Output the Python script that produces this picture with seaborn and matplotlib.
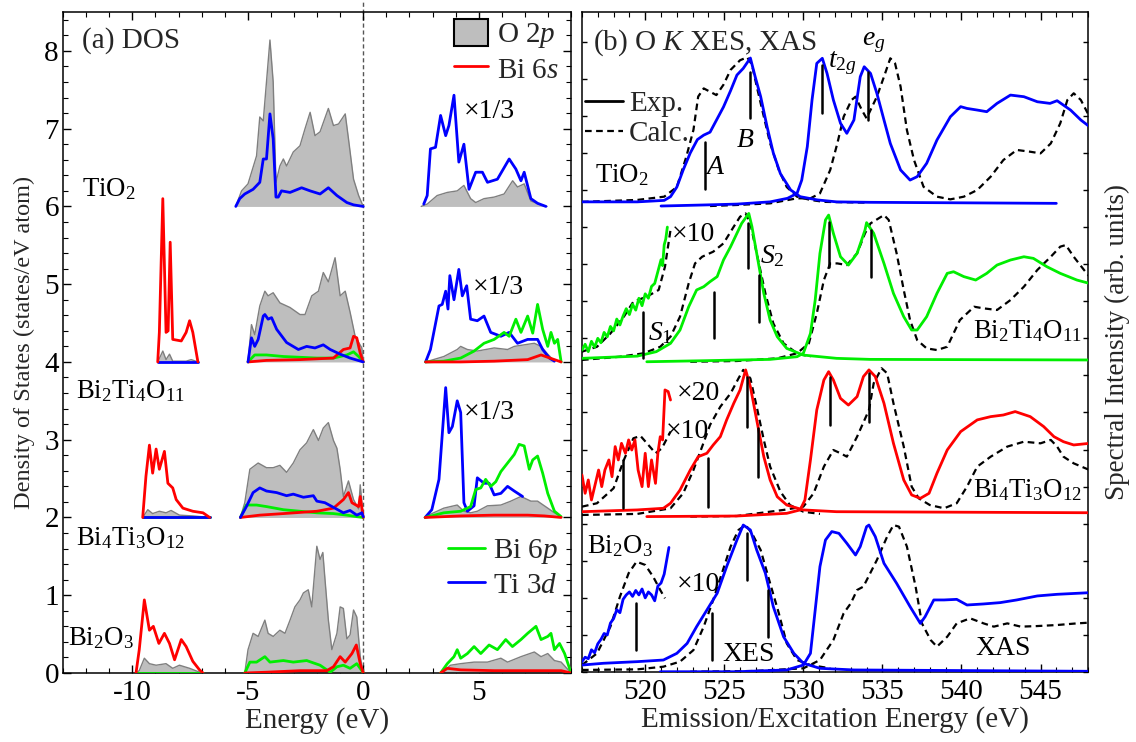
import numpy as np
import pandas as pd
import matplotlib
matplotlib.use("Agg")
import matplotlib.pyplot as plt
import seaborn as sns
from matplotlib.ticker import MultipleLocator, NullFormatter
from matplotlib.patches import Patch
from matplotlib.lines import Line2D

# ---------------------------------------------------------------- style
sns.set_theme(style="ticks")
plt.rcParams.update({
    "font.family": ["Liberation Serif", "DejaVu Serif"],
    "mathtext.fontset": "custom",
    "mathtext.rm": "Liberation Serif",
    "mathtext.it": "Liberation Serif:italic",
    "mathtext.bf": "Liberation Serif:bold",
    "axes.unicode_minus": False,
    "axes.edgecolor": "black",
    "axes.linewidth": 1.1,
    "font.size": 20,
})

RED, GREEN, BLUE = "#ff0000", "#00ee00", "#0000ff"
GRAY, EDGE = "#bebebe", "#7f7f7f"
FS = 20       # annotation text
FS_CMP = 19.3 # compound names
FS_BIG = 21   # panel titles, x labels, tick labels, legends

# ================================================================ (a) DOS
# energies in eV, DOS in states/eV atom (relative to each compound's baseline)
dos_offsets = {"TiO2": 6.0, "Bi2Ti4O11": 4.0, "Bi4Ti3O12": 2.0, "Bi2O3": 0.0}
cb_ti3d_scale = 1.0 / 3.0   # Ti 3d conduction band is drawn ×1/3

# --- TiO2
tio2_o2p_vb_e = [-5.52, -5.27, -4.99, -4.62, -4.48, -4.33, -4.19, -4.04, -3.90, -3.78, -3.61, -3.46, -3.32, -3.03,
                 -2.74, -2.52, -2.30, -2.09, -1.87, -1.51, -1.29, -1.07, -0.78, -0.64, -0.42, -0.20, 0.0]
tio2_o2p_vb_d = [0.0, 0.20, 0.29, 0.65, 1.15, 1.10, 1.60, 2.14, 1.60, 0.31, 0.52, 0.61, 0.52, 0.70,
                 0.78, 1.00, 1.21, 0.91, 0.96, 1.26, 1.04, 1.06, 1.19, 0.87, 0.35, 0.14, 0.0]
tio2_ti3d_vb_e = [-5.52, -5.35, -5.13, -4.77, -4.48, -4.33, -4.19, -4.04, -3.90, -3.78, -3.68, -3.54, -3.17,
                  -2.67, -2.30, -1.87, -1.51, -1.14, -0.71, -0.42, 0.0]
tio2_ti3d_vb_d = [0.0, 0.10, 0.16, 0.22, 0.31, 0.61, 0.61, 1.19, 0.87, 0.12, 0.12, 0.20, 0.18,
                  0.24, 0.20, 0.16, 0.24, 0.14, 0.05, 0.02, 0.0]
tio2_o2p_cb_e = [2.51, 2.77, 3.20, 3.64, 4.07, 4.36, 4.65, 4.87, 5.23, 5.67, 6.10, 6.47, 6.68, 6.97, 7.26, 7.70, 7.96]
tio2_o2p_cb_d = [0.0, 0.03, 0.14, 0.18, 0.20, 0.27, 0.10, 0.05, 0.10, 0.12, 0.16, 0.33, 0.25, 0.29, 0.07, 0.02, 0.0]
tio2_ti3d_cb_e = [2.62, 2.77, 2.91, 3.13, 3.35, 3.57, 3.71, 3.93, 4.14, 4.36, 4.58, 4.87, 5.16, 5.38, 5.81,
                  6.32, 6.61, 6.83, 6.97, 7.26, 7.55, 7.91]
tio2_ti3d_cb_d = [0.09, 0.42, 2.22, 2.28, 3.51, 2.73, 3.12, 4.29, 1.71, 2.40, 0.66, 1.32, 1.32, 0.93, 1.05,
                  1.83, 1.44, 0.99, 1.32, 0.30, 0.12, 0.0]

# --- Bi2Ti4O11
b2t4_bi6s_deep_e = [-8.90, -8.83, -8.68, -8.54, -8.45, -8.36, -8.25, -7.88, -7.67, -7.52, -7.38, -7.16]
b2t4_bi6s_deep_d = [0.0, 0.38, 2.10, 0.38, 0.40, 1.54, 0.29, 0.27, 0.38, 0.53, 0.38, 0.0]
b2t4_o2p_deep_e = [-8.90, -8.68, -8.54, -8.39, -8.25, -7.67, -7.45, -7.16]
b2t4_o2p_deep_d = [0.0, 0.14, 0.03, 0.10, 0.01, 0.01, 0.03, 0.0]
b2t4_o2p_vb_e = [-4.99, -4.84, -4.70, -4.48, -4.26, -4.12, -3.90, -3.61, -3.17, -2.74, -2.52, -2.23, -1.94,
                 -1.73, -1.51, -1.22, -1.00, -0.78, -0.57, -0.35, -0.06, 0.0]
b2t4_o2p_vb_d = [0.01, 0.48, 0.35, 0.72, 0.91, 0.85, 0.89, 0.76, 0.70, 0.61, 0.61, 0.85, 0.91,
                 1.15, 1.03, 1.34, 0.85, 0.91, 0.64, 0.33, 0.18, 0.0]
b2t4_ti3d_vb_e = [-4.99, -4.84, -4.70, -4.55, -4.33, -4.26, -4.12, -3.97, -3.75, -3.32, -2.81, -2.45, -2.09,
                  -1.73, -1.43, -1.00, -0.57, 0.0]
b2t4_ti3d_vb_d = [0.0, 0.31, 0.20, 0.29, 0.59, 0.61, 0.55, 0.57, 0.42, 0.25, 0.16, 0.20, 0.18,
                  0.22, 0.16, 0.10, 0.05, 0.0]
b2t4_bi6p_vb_e = [-4.99, -4.70, -4.19, -3.46, -2.74, -2.01, -1.29, -0.71, -0.42, -0.20, 0.0]
b2t4_bi6p_vb_d = [0.0, 0.09, 0.09, 0.07, 0.06, 0.05, 0.05, 0.09, 0.13, 0.07, 0.0]
b2t4_bi6s_vb_e = [-4.99, -4.19, -2.74, -1.29, -0.86, -0.57, -0.42, -0.28, -0.13, 0.0]
b2t4_bi6s_vb_d = [0.0, 0.02, 0.03, 0.05, 0.16, 0.18, 0.33, 0.31, 0.11, 0.0]
b2t4_o2p_cb_e = [2.70, 3.49, 4.07, 4.22, 4.51, 4.94, 5.67, 6.25, 6.54, 6.97, 7.41, 7.70, 7.99, 8.28]
b2t4_o2p_cb_d = [0.0, 0.07, 0.16, 0.20, 0.16, 0.14, 0.18, 0.16, 0.20, 0.22, 0.24, 0.20, 0.10, 0.01]
b2t4_ti3d_cb_e = [2.70, 2.91, 3.28, 3.42, 3.57, 3.67, 3.75, 3.93, 4.14, 4.29, 4.48, 4.65, 4.94, 5.23, 5.52,
                  5.96, 6.32, 6.68, 7.12, 7.55, 7.77, 8.06, 8.28]
b2t4_ti3d_cb_d = [0.0, 0.48, 2.16, 2.22, 2.73, 2.04, 3.33, 2.40, 3.57, 2.55, 2.94, 1.65, 1.59, 1.77, 1.14,
                  0.99, 1.14, 0.72, 0.87, 0.87, 0.48, 0.15, 0.03]
b2t4_bi6p_cb_e = [2.70, 3.49, 4.22, 4.80, 5.23, 5.67, 6.10, 6.32, 6.61, 6.83, 7.12, 7.34, 7.55, 7.77, 7.99,
                  8.13, 8.28, 8.42, 8.57]
b2t4_bi6p_cb_d = [0.0, 0.01, 0.05, 0.14, 0.24, 0.29, 0.38, 0.33, 0.55, 0.38, 0.59, 0.37, 0.74, 0.42, 0.20,
                  0.38, 0.24, 0.29, 0.0]
b2t4_bi6s_cb_e = [2.70, 4.22, 5.67, 7.12, 7.70, 7.99, 8.28, 8.57]
b2t4_bi6s_cb_d = [0.0, 0.0, 0.01, 0.03, 0.09, 0.06, 0.03, 0.0]

# --- Bi4Ti3O12
b4t3_bi6s_deep_e = [-9.55, -9.41, -9.26, -9.12, -8.97, -8.83, -8.61, -8.46, -8.25, -8.10, -7.81, -7.38, -6.94, -6.65]
b4t3_bi6s_deep_d = [0.0, 0.53, 0.93, 0.57, 0.88, 0.62, 0.85, 0.44, 0.38, 0.23, 0.12, 0.08, 0.06, 0.0]
b4t3_o2p_deep_e = [-9.55, -9.33, -9.12, -8.83, -8.54, -8.32, -7.96, -7.38, -6.65]
b4t3_o2p_deep_d = [0.0, 0.10, 0.05, 0.08, 0.06, 0.09, 0.03, 0.02, 0.0]
b4t3_o2p_vb_e = [-5.32, -5.13, -4.91, -4.55, -4.19, -3.90, -3.61, -3.32, -3.03, -2.74, -2.45, -2.16, -1.94, -1.73,
                 -1.51, -1.29, -1.14, -1.00, -0.86, -0.64, -0.42, -0.20, -0.13, 0.0]
b4t3_o2p_vb_d = [0.0, 0.19, 0.62, 0.70, 0.64, 0.64, 0.67, 0.58, 0.70, 0.87, 0.96, 1.13, 0.99, 1.15,
                 1.22, 0.99, 0.89, 0.62, 0.27, 0.47, 0.23, 0.11, 0.42, 0.0]
b4t3_ti3d_vb_e = [-5.32, -5.06, -4.77, -4.48, -4.19, -3.75, -3.32, -3.03, -2.59, -2.16, -2.01, -1.66, -1.29,
                  -0.86, -0.57, -0.28, -0.06, 0.0]
b4t3_ti3d_vb_d = [0.0, 0.14, 0.32, 0.38, 0.34, 0.32, 0.28, 0.30, 0.26, 0.28, 0.21, 0.19, 0.13,
                  0.06, 0.09, 0.03, 0.06, 0.01]
b4t3_bi6p_vb_e = [-5.32, -5.06, -4.62, -4.19, -3.46, -2.74, -2.01, -1.29, -0.71, -0.28, 0.0]
b4t3_bi6p_vb_d = [0.0, 0.16, 0.16, 0.14, 0.10, 0.08, 0.06, 0.05, 0.03, 0.01, 0.0]
b4t3_bi6s_vb_e = [-5.32, -4.48, -3.46, -2.01, -1.29, -0.86, -0.64, -0.49, -0.20, -0.13, 0.0]
b4t3_bi6s_vb_d = [0.0, 0.03, 0.05, 0.08, 0.12, 0.23, 0.32, 0.19, 0.14, 0.27, 0.0]
b4t3_o2p_cb_e = [2.68, 3.49, 4.07, 4.36, 4.65, 4.94, 5.38, 5.96, 6.39, 6.83, 7.26, 7.55, 7.99, 8.28, 8.57]
b4t3_o2p_cb_d = [0.01, 0.12, 0.16, 0.08, 0.06, 0.08, 0.15, 0.16, 0.21, 0.27, 0.21, 0.21, 0.12, 0.06, 0.01]
b4t3_ti3d_cb_e = [2.68, 2.97, 3.28, 3.57, 3.71, 3.86, 4.07, 4.22, 4.36, 4.51, 4.80, 4.94, 5.23, 5.45, 5.67,
                  5.96, 6.25, 6.54, 6.90]
b4t3_ti3d_cb_d = [0.0, 0.30, 1.47, 5.01, 3.27, 3.51, 4.50, 4.05, 0.57, 0.24, 0.45, 1.53, 1.32, 1.32, 0.87,
                  0.93, 1.20, 1.02, 0.81]
b4t3_bi6p_cb_e = [2.68, 3.49, 4.22, 4.65, 4.87, 5.09, 5.30, 5.52, 5.74, 5.96, 6.25, 6.54, 6.75, 6.97, 7.19,
                  7.34, 7.55, 7.77, 7.99, 8.28, 8.57]
b4t3_bi6p_cb_d = [0.0, 0.06, 0.08, 0.14, 0.36, 0.38, 0.49, 0.40, 0.46, 0.59, 0.70, 0.81, 0.94, 0.92, 0.62,
                  0.74, 0.79, 0.57, 0.31, 0.08, 0.01]
b4t3_bi6s_cb_e = [2.68, 4.22, 5.67, 6.54, 7.12, 7.84, 8.57]
b4t3_bi6s_cb_d = [0.0, 0.02, 0.03, 0.03, 0.03, 0.02, 0.0]

# --- Bi2O3
bio_bi6s_deep_e = [-9.84, -9.70, -9.48, -9.26, -9.09, -8.85, -8.61, -8.39, -8.17, -7.88, -7.67, -7.38, -7.09, -6.94]
bio_bi6s_deep_d = [0.0, 0.30, 0.94, 0.55, 0.60, 0.38, 0.51, 0.38, 0.17, 0.43, 0.34, 0.15, 0.04, 0.0]
bio_o2p_deep_e = [-9.84, -9.70, -9.48, -9.26, -8.97, -8.54, -8.25, -7.96, -7.52, -7.09, -6.94]
bio_o2p_deep_d = [0.0, 0.03, 0.19, 0.12, 0.10, 0.12, 0.06, 0.10, 0.06, 0.01, 0.0]
bio_o2p_vb_e = [-5.13, -4.99, -4.77, -4.55, -4.26, -4.12, -3.90, -3.61, -3.39, -3.17, -2.96, -2.74, -2.59, -2.38,
                -2.23, -2.01, -1.87, -1.75, -1.65, -1.51, -1.36, -1.14, -1.00, -0.86, -0.71, -0.57, -0.42, -0.28,
                -0.13, 0.0]
bio_o2p_vb_d = [0.0, 0.30, 0.51, 0.47, 0.68, 0.51, 0.47, 0.55, 0.51, 0.68, 0.85, 0.94, 1.03, 1.07,
                0.85, 1.63, 1.46, 1.55, 1.18, 0.68, 0.30, 0.51, 0.85, 0.83, 0.44, 0.49, 0.81, 0.72,
                0.21, 0.0]
bio_bi6p_vb_e = [-5.13, -4.91, -4.62, -4.26, -4.04, -3.46, -3.03, -2.45, -1.87, -1.43, -1.14, -0.86, -0.57,
                 -0.28, -0.06, 0.0]
bio_bi6p_vb_d = [0.0, 0.14, 0.14, 0.21, 0.14, 0.16, 0.14, 0.16, 0.10, 0.01, 0.08, 0.10, 0.06, 0.12, 0.03, 0.0]
bio_bi6s_vb_e = [-5.13, -4.19, -2.74, -1.58, -1.29, -1.00, -0.78, -0.49, -0.30, -0.13, 0.0]
bio_bi6s_vb_d = [0.0, 0.01, 0.03, 0.03, 0.08, 0.21, 0.14, 0.25, 0.36, 0.12, 0.0]
bio_o2p_cb_e = [3.35, 3.78, 4.22, 4.80, 5.38, 5.96, 6.25, 6.83, 7.41, 7.70, 7.99, 8.28, 8.57, 9.0]
bio_o2p_cb_d = [0.0, 0.10, 0.12, 0.14, 0.14, 0.19, 0.14, 0.21, 0.27, 0.21, 0.25, 0.16, 0.14, 0.0]
bio_bi6p_cb_e = [3.35, 3.64, 3.93, 4.07, 4.22, 4.51, 4.80, 5.09, 5.45, 5.81, 6.17, 6.46, 6.83, 7.12, 7.48,
                 7.70, 7.99, 8.13, 8.28, 8.50, 8.72, 9.0]
bio_bi6p_cb_d = [0.0, 0.12, 0.21, 0.30, 0.19, 0.25, 0.34, 0.25, 0.36, 0.30, 0.43, 0.34, 0.43, 0.51, 0.60,
                 0.43, 0.47, 0.51, 0.30, 0.38, 0.25, 0.0]
bio_bi6s_cb_e = [3.35, 3.64, 4.22, 5.67, 7.12, 8.57, 9.0]
bio_bi6s_cb_d = [0.0, 0.06, 0.04, 0.03, 0.03, 0.03, 0.0]

# ================================================================ (b) O K XES / XAS
# photon energy in eV, intensity normalised to the main peak (relative to each baseline)
spec_offsets = {"TiO2": 3.17, "Bi2Ti4O11": 2.11, "Bi4Ti3O12": 1.07, "Bi2O3": 0.0}

# --- TiO2
tio2_xes_exp_e = [516.0, 519.5, 521.2, 521.6, 522.0, 522.4, 522.85, 523.3, 523.7, 524.1, 524.5, 524.95, 525.4,
                  525.8, 526.2, 526.65, 526.95, 527.3, 527.7, 528.1, 528.55, 529.2, 529.8, 530.9, 532.1, 534.2, 546.0]
tio2_xes_exp_i = [0.0, 0.0, 0.01, 0.035, 0.10, 0.215, 0.33, 0.42, 0.45, 0.47, 0.55, 0.64, 0.75,
                  0.855, 0.90, 0.97, 0.845, 0.71, 0.51, 0.33, 0.19, 0.08, 0.035, 0.013, 0.0, -0.003, -0.01]
tio2_xes_calc_e = [516.0, 519.5, 521.2, 522.0, 522.6, 523.05, 523.35, 523.7, 524.5, 524.95, 525.4, 526.0, 526.45,
                   526.75, 527.05, 527.4, 527.9, 528.45, 528.95, 529.6, 530.45, 531.3, 534.0]
tio2_xes_calc_i = [0.0, 0.013, 0.035, 0.10, 0.305, 0.485, 0.71, 0.765, 0.72, 0.79, 0.89, 0.955, 0.975,
                   0.925, 0.78, 0.62, 0.395, 0.215, 0.10, 0.035, 0.013, 0.0, -0.005]
tio2_xas_exp_e = [521.0, 523.7, 525.8, 527.9, 529.0, 529.6, 529.9, 530.25, 530.55, 530.85, 531.2, 531.5, 531.9,
                  532.35, 532.75, 533.2, 533.6, 533.85, 534.25, 534.65, 535.1, 535.5, 536.15, 536.75, 537.2, 537.8,
                  538.45, 539.3, 539.95, 540.35, 541.0, 541.6, 542.25, 543.1, 543.95, 544.8, 545.6, 546.05, 546.9,
                  547.55, 548.1]
tio2_xas_exp_i = [-0.028, -0.021, -0.015, 0.0, 0.024, 0.057, 0.147, 0.372, 0.687, 0.934, 0.968, 0.866, 0.687,
                  0.53, 0.462, 0.552, 0.844, 0.911, 0.866, 0.732, 0.552, 0.394, 0.215, 0.147, 0.17, 0.26,
                  0.417, 0.574, 0.642, 0.63, 0.619, 0.608, 0.664, 0.72, 0.709, 0.675, 0.664, 0.682, 0.619,
                  0.552, 0.507]
tio2_xas_calc_e = [524.1, 525.8, 527.9, 529.6, 530.45, 531.05, 531.7, 532.15, 532.55, 533.05, 533.3, 533.7, 534.0,
                   534.65, 535.1, 535.5, 535.8, 536.15, 536.55, 537.0, 537.6, 538.45, 539.3, 540.15, 541.0, 541.85,
                   542.65, 543.5, 544.35, 545.0, 545.65, 546.25, 546.7, 547.1, 547.55, 548.1]
tio2_xas_calc_i = [-0.028, -0.021, -0.01, 0.024, 0.024, 0.057, 0.215, 0.394, 0.574, 0.687, 0.709, 0.619, 0.563,
                   0.709, 0.844, 0.968, 0.934, 0.777, 0.484, 0.282, 0.102, 0.035, 0.017, 0.035, 0.08, 0.17,
                   0.282, 0.35, 0.338, 0.327, 0.394, 0.53, 0.687, 0.732, 0.687, 0.574]
tio2_marks_e = [523.75, 526.6, 531.18, 534.07]
tio2_marks_lo = [0.09, 0.563, 0.597, 0.552]
tio2_marks_hi = [0.406, 0.878, 0.923, 0.878]

# --- Bi2Ti4O11
b2t4_xes_exp_e = [516.0, 519.5, 520.7, 521.6, 522.2, 522.75, 523.25, 523.7, 524.1, 524.55, 524.95, 525.4, 525.8,
                  526.1, 526.55, 526.75, 527.05, 527.5, 527.9, 528.35, 528.95, 530.0, 532.1, 534.2, 548.1]
b2t4_xes_exp_i = [0.005, 0.02, 0.05, 0.106, 0.196, 0.353, 0.466, 0.488, 0.522, 0.556, 0.668, 0.758, 0.848,
                  0.915, 0.982, 0.893, 0.713, 0.443, 0.263, 0.151, 0.072, 0.027, 0.005, -0.002, -0.006]
b2t4_xes_x10_e = [516.0, 516.2, 516.4, 516.6, 516.8, 517.0, 517.2, 517.4, 517.6, 517.8, 518.0, 518.2, 518.4,
                  518.6, 518.8, 519.0, 519.2, 519.4, 519.6, 519.8, 520.0, 520.2, 520.4, 520.6, 520.8, 521.0,
                  521.1, 521.2, 521.3, 521.4]
b2t4_xes_x10_i = [0.06, 0.10, 0.05, 0.12, 0.08, 0.14, 0.11, 0.18, 0.15, 0.22, 0.19, 0.27, 0.23,
                  0.29, 0.34, 0.30, 0.37, 0.33, 0.41, 0.36, 0.44, 0.41, 0.49, 0.51, 0.59, 0.67,
                  0.63, 0.77, 0.81, 0.89]
b2t4_xes_calc_e = [516.0, 518.4, 519.9, 520.95, 521.6, 522.2, 522.75, 523.15, 523.6, 524.3, 524.95, 525.6, 526.0,
                   526.35, 526.65, 527.05, 527.6, 528.1, 528.75, 529.6, 530.45]
b2t4_xes_calc_i = [-0.006, 0.016, 0.039, 0.083, 0.151, 0.286, 0.511, 0.645, 0.69, 0.724, 0.78, 0.893, 0.96,
                   0.982, 0.915, 0.713, 0.443, 0.241, 0.106, 0.039, 0.016]
b2t4_xes_calc_x10_e = [516.0, 516.95, 517.8, 518.65, 519.25, 520.1, 520.85, 521.25, 521.6]
b2t4_xes_calc_x10_i = [0.05, 0.083, 0.173, 0.286, 0.387, 0.421, 0.466, 0.623, 0.871]
b2t4_xas_exp_e = [520.1, 523.7, 527.9, 529.6, 530.0, 530.45, 530.75, 531.05, 531.4, 531.6, 531.9, 532.35, 532.85,
                  533.4, 533.9, 534.0, 534.45, 535.1, 535.7, 536.35, 536.85, 537.2, 537.8, 538.45, 539.1, 539.5,
                  540.15, 540.9, 541.6, 542.25, 543.1, 543.95, 544.55, 545.4, 546.25, 547.3, 548.1]
b2t4_xas_exp_i = [-0.018, -0.011, -0.002, 0.016, 0.039, 0.173, 0.398, 0.713, 0.938, 0.971, 0.848, 0.69, 0.634,
                  0.713, 0.87, 0.92, 0.848, 0.645, 0.443, 0.286, 0.196, 0.196, 0.286, 0.443, 0.578, 0.589,
                  0.556, 0.533, 0.578, 0.634, 0.668, 0.69, 0.679, 0.623, 0.578, 0.533, 0.51]
b2t4_xas_calc_e = [522.85, 525.8, 528.35, 529.6, 530.35, 530.85, 531.3, 531.7, 532.15, 532.75, 533.4, 533.9,
                   534.25, 535.1, 535.4, 535.9, 536.35, 536.75, 537.2, 537.8, 538.45, 539.1, 539.9, 540.8, 541.4,
                   542.25, 543.1, 543.95, 544.8, 545.65, 546.25, 546.6, 547.1, 547.75, 548.1]
b2t4_xas_calc_i = [-0.018, -0.013, 0.005, 0.039, 0.106, 0.308, 0.533, 0.645, 0.645, 0.634, 0.713, 0.848,
                   0.915, 0.971, 0.938, 0.713, 0.466, 0.263, 0.128, 0.072, 0.061, 0.083, 0.263, 0.353, 0.342,
                   0.331, 0.398, 0.488, 0.601, 0.69, 0.758, 0.769, 0.69, 0.601, 0.556]
b2t4_marks_e = [519.85, 524.36, 526.49, 527.21, 531.6, 534.28]
b2t4_marks_lo = [0.005, 0.14, 0.612, 0.252, 0.623, 0.556]
b2t4_marks_hi = [0.32, 0.454, 0.915, 0.567, 0.926, 0.87]

# --- Bi4Ti3O12
b4t3_xes_exp_e = [516.0, 519.5, 521.15, 521.6, 522.2, 522.85, 523.35, 523.9, 524.3, 524.75, 525.15, 525.6, 526.0,
                  526.35, 526.65, 527.05, 527.5, 527.9, 528.35, 528.95, 530.0, 532.1, 548.1]
b4t3_xes_exp_i = [0.011, 0.023, 0.034, 0.068, 0.157, 0.292, 0.382, 0.405, 0.461, 0.517, 0.63, 0.742, 0.832,
                  0.967, 0.854, 0.63, 0.382, 0.225, 0.112, 0.056, 0.023, 0.011, 0.004]
b4t3_xes_x20_e = [516.0, 516.2, 516.4, 516.6, 516.85, 517.05, 517.25, 517.45, 517.7, 517.9, 518.1, 518.3, 518.5,
                  518.75, 518.95, 519.15, 519.35, 519.55, 519.8, 520.0, 520.2, 520.4, 520.65, 520.8, 520.95,
                  521.1, 521.25, 521.45, 521.6]
b4t3_xes_x20_i = [0.259, 0.135, 0.225, 0.09, 0.202, 0.292, 0.18, 0.292, 0.36, 0.247, 0.45, 0.36, 0.472,
                  0.405, 0.495, 0.427, 0.495, 0.292, 0.18, 0.405, 0.18, 0.36, 0.202, 0.405, 0.517,
                  0.495, 0.832, 0.821, 0.764]
b4t3_xes_calc_e = [516.0, 519.5, 521.6, 522.4, 523.05, 523.6, 524.1, 524.75, 525.4, 525.9, 526.2, 526.65, 527.05,
                   527.5, 527.9, 528.55, 529.15, 530.0, 531.05]
b4t3_xes_calc_i = [-0.011, -0.004, 0.034, 0.135, 0.292, 0.45, 0.596, 0.719, 0.809, 0.91, 0.967, 0.91, 0.719,
                   0.495, 0.315, 0.146, 0.056, 0.011, -0.004]
b4t3_xes_calc_x10_e = [516.0, 516.95, 518.0, 518.65, 519.25, 519.7, 520.2, 520.65, 521.05, 521.6]
b4t3_xes_calc_x10_i = [0.045, 0.068, 0.169, 0.36, 0.506, 0.522, 0.461, 0.405, 0.438, 0.551]
b4t3_xas_exp_e = [520.1, 525.8, 528.95, 529.8, 530.1, 530.45, 530.85, 531.3, 531.6, 531.9, 532.35, 532.85, 533.4,
                  533.8, 534.15, 534.55, 535.1, 535.7, 536.35, 536.85, 537.4, 537.95, 538.45, 539.1, 539.95,
                  541.0, 541.85, 542.65, 543.4, 544.35, 545.2, 545.85, 546.45, 547.1, 548.1]
b4t3_xas_exp_i = [-0.022, -0.018, 0.0, 0.023, 0.09, 0.36, 0.697, 0.899, 0.955, 0.899, 0.775, 0.73, 0.787,
                  0.922, 0.967, 0.922, 0.742, 0.472, 0.225, 0.124, 0.101, 0.135, 0.27, 0.427, 0.551,
                  0.63, 0.652, 0.663, 0.686, 0.652, 0.585, 0.517, 0.483, 0.461, 0.472]
b4t3_xas_calc_e = [522.85, 525.8, 528.75, 530.0, 530.65, 531.3, 531.9, 532.35, 532.75, 533.4, 534.15, 534.45,
                   534.95, 535.3, 535.7, 536.35, 536.85, 537.3, 538.0, 538.9, 539.7, 540.35, 541.0, 541.85,
                   542.9, 543.95, 545.0, 545.65, 546.05, 546.45, 547.1, 548.1]
b4t3_xas_calc_i = [-0.022, -0.018, 0.023, 0.045, 0.135, 0.315, 0.427, 0.405, 0.382, 0.517, 0.697, 0.877,
                   0.978, 0.944, 0.742, 0.45, 0.18, 0.101, 0.056, 0.034, 0.068, 0.18, 0.315, 0.382,
                   0.45, 0.483, 0.472, 0.495, 0.45, 0.382, 0.337, 0.292]
b4t3_marks_e = [518.58, 523.96, 526.43, 527.13, 531.66, 534.17]
b4t3_marks_lo = [0.034, 0.045, 0.584, 0.247, 0.596, 0.618]
b4t3_marks_hi = [0.36, 0.371, 0.922, 0.573, 0.922, 0.944]

# --- Bi2O3
bio_xes_exp_e = [516.0, 517.35, 519.5, 521.15, 522.0, 522.65, 523.25, 523.9, 524.55, 525.15, 525.8, 526.2, 526.65,
                 527.05, 527.6, 528.1, 528.75, 529.4, 530.0, 531.05, 533.2, 548.1]
bio_xes_exp_i = [0.047, 0.059, 0.07, 0.081, 0.126, 0.193, 0.306, 0.418, 0.531, 0.711, 0.89, 0.991, 0.958,
                 0.823, 0.666, 0.441, 0.238, 0.126, 0.059, 0.025, 0.014, 0.005]
bio_xes_x10_e = [516.0, 516.2, 516.4, 516.6, 516.8, 517.0, 517.2, 517.4, 517.6, 517.8, 518.0, 518.2, 518.4, 518.6,
                 518.8, 519.0, 519.2, 519.4, 519.6, 519.8, 520.0, 520.2, 520.4, 520.6, 520.8, 521.0, 521.2,
                 521.35, 521.5]
bio_xes_x10_i = [0.07, 0.10, 0.09, 0.15, 0.13, 0.19, 0.22, 0.26, 0.25, 0.33, 0.36, 0.42, 0.40, 0.49,
                 0.52, 0.54, 0.51, 0.55, 0.52, 0.56, 0.50, 0.54, 0.52, 0.48, 0.58, 0.60, 0.66,
                 0.75, 0.84]
bio_xes_calc_e = [516.0, 519.5, 521.15, 522.2, 523.05, 523.7, 524.3, 524.85, 525.4, 525.9, 526.35, 526.75, 527.3,
                  527.9, 528.45, 528.95, 529.6, 530.45, 531.7]
bio_xes_calc_i = [0.014, 0.018, 0.036, 0.07, 0.148, 0.306, 0.486, 0.666, 0.846, 0.958, 0.991, 0.935, 0.823,
                  0.598, 0.396, 0.193, 0.081, 0.047, 0.025]
bio_xes_calc_x10_e = [516.0, 516.95, 517.8, 518.4, 518.95, 519.45, 520.0, 520.5, 520.95, 521.25]
bio_xes_calc_x10_i = [0.047, 0.126, 0.306, 0.508, 0.666, 0.744, 0.722, 0.643, 0.553, 0.497]
bio_xas_exp_e = [520.95, 525.8, 528.95, 530.0, 530.45, 530.75, 531.05, 531.4, 531.8, 532.25, 532.75, 533.3, 533.6,
                 534.0, 534.15, 534.55, 535.1, 535.9, 536.75, 537.4, 537.7, 538.25, 538.9, 539.7, 540.35, 541.4,
                 542.45, 543.5, 544.8, 546.05, 548.1]
bio_xas_exp_i = [0.002, 0.002, 0.014, 0.047, 0.126, 0.418, 0.711, 0.89, 0.947, 0.935, 0.868, 0.789, 0.846,
                 0.98, 0.991, 0.913, 0.733, 0.598, 0.441, 0.328, 0.373, 0.486, 0.486, 0.49, 0.452, 0.459,
                 0.468, 0.486, 0.513, 0.524, 0.535]
bio_xas_calc_e = [522.85, 526.85, 530.0, 531.05, 531.9, 532.55, 533.0, 533.4, 533.8, 534.65, 535.3, 535.7, 536.05,
                  536.55, 537.1, 537.5, 538.05, 538.45, 539.1, 539.7, 540.55, 541.4, 542.05, 542.9, 543.75,
                  544.8, 546.05, 547.3, 548.1]
bio_xas_calc_i = [0.002, 0.007, 0.025, 0.081, 0.216, 0.396, 0.463, 0.553, 0.576, 0.755, 0.913, 0.991, 0.98,
                  0.846, 0.576, 0.328, 0.216, 0.171, 0.238, 0.328, 0.362, 0.328, 0.306, 0.328, 0.306,
                  0.31, 0.317, 0.328, 0.333]
bio_marks_e = [519.41, 524.22, 526.43, 527.74]
bio_marks_lo = [0.148, 0.081, 0.62, 0.238]
bio_marks_hi = [0.463, 0.396, 0.935, 0.553]


# ---------------------------------------------------------------- helpers
DASH = (0, (3, 2))


def line(ax, x, y, offset=0.0, scale=1.0, color="k", lw=2.0, ls="-", z=3):
    df = pd.DataFrame({"x": np.asarray(x, float), "y": np.asarray(y, float) * scale + offset})
    sns.lineplot(data=df, x="x", y="y", ax=ax, color=color, linewidth=lw, linestyle=ls,
                 sort=False, estimator=None, zorder=z, legend=False)


def filled(ax, x, y, offset):
    x = np.asarray(x, float)
    y = np.asarray(y, float) + offset
    ax.fill_between(x, offset, y, color=GRAY, lw=0, zorder=1)
    line(ax, x, y, color=EDGE, lw=1.0, z=2)


def marks(ax, xs, lo, hi, offset):
    for x, a, b in zip(xs, lo, hi):
        line(ax, [x, x], [a, b], offset=offset, color="black", lw=1.8, z=5)


# ---------------------------------------------------------------- figure
fig = plt.figure(figsize=(11.36, 7.42), dpi=100)
ax1 = fig.add_axes([0.0555, 0.093, 0.4472, 0.8908])
ax2 = fig.add_axes([0.5123, 0.0943, 0.4454, 0.8895])

# ---- panel (a)
# TiO2
o = dos_offsets["TiO2"]
filled(ax1, tio2_o2p_vb_e, tio2_o2p_vb_d, o)
line(ax1, tio2_ti3d_vb_e, tio2_ti3d_vb_d, o, color=BLUE)
filled(ax1, tio2_o2p_cb_e, tio2_o2p_cb_d, o)
line(ax1, tio2_ti3d_cb_e, tio2_ti3d_cb_d, o, scale=cb_ti3d_scale, color=BLUE)

# Bi2Ti4O11
o = dos_offsets["Bi2Ti4O11"]
filled(ax1, b2t4_o2p_deep_e, b2t4_o2p_deep_d, o)
line(ax1, [b2t4_bi6s_deep_e[0], b2t4_bi6s_deep_e[-1]], [0, 0], o, color=BLUE)
line(ax1, b2t4_bi6s_deep_e, b2t4_bi6s_deep_d, o, color=RED)
filled(ax1, b2t4_o2p_vb_e, b2t4_o2p_vb_d, o)
line(ax1, b2t4_bi6p_vb_e, b2t4_bi6p_vb_d, o, color=GREEN)
line(ax1, b2t4_bi6s_vb_e, b2t4_bi6s_vb_d, o, color=RED)
line(ax1, b2t4_ti3d_vb_e, b2t4_ti3d_vb_d, o, color=BLUE)
filled(ax1, b2t4_o2p_cb_e, b2t4_o2p_cb_d, o)
line(ax1, b2t4_ti3d_cb_e, b2t4_ti3d_cb_d, o, scale=cb_ti3d_scale, color=BLUE)
line(ax1, b2t4_bi6p_cb_e, b2t4_bi6p_cb_d, o, color=GREEN)
line(ax1, b2t4_bi6s_cb_e, b2t4_bi6s_cb_d, o, color=RED)

# Bi4Ti3O12
o = dos_offsets["Bi4Ti3O12"]
filled(ax1, b4t3_o2p_deep_e, b4t3_o2p_deep_d, o)
line(ax1, [b4t3_bi6s_deep_e[0], b4t3_bi6s_deep_e[-1]], [0, 0], o, color=GREEN)
line(ax1, [b4t3_bi6s_deep_e[0], b4t3_bi6s_deep_e[-1]], [0, 0], o, color=BLUE)
line(ax1, b4t3_bi6s_deep_e, b4t3_bi6s_deep_d, o, color=RED)
filled(ax1, b4t3_o2p_vb_e, b4t3_o2p_vb_d, o)
line(ax1, b4t3_bi6p_vb_e, b4t3_bi6p_vb_d, o, color=GREEN)
line(ax1, b4t3_bi6s_vb_e, b4t3_bi6s_vb_d, o, color=RED)
line(ax1, b4t3_ti3d_vb_e, b4t3_ti3d_vb_d, o, color=BLUE)
filled(ax1, b4t3_o2p_cb_e, b4t3_o2p_cb_d, o)
line(ax1, b4t3_ti3d_cb_e, b4t3_ti3d_cb_d, o, scale=cb_ti3d_scale, color=BLUE)
line(ax1, b4t3_bi6p_cb_e, b4t3_bi6p_cb_d, o, color=GREEN)
line(ax1, b4t3_bi6s_cb_e, b4t3_bi6s_cb_d, o, color=RED)

# Bi2O3
o = dos_offsets["Bi2O3"]
filled(ax1, bio_o2p_deep_e, bio_o2p_deep_d, o)
line(ax1, [bio_bi6s_deep_e[0], bio_bi6s_deep_e[-1]], [0, 0], o, color=GREEN)
line(ax1, bio_bi6s_deep_e, bio_bi6s_deep_d, o, color=RED)
filled(ax1, bio_o2p_vb_e, bio_o2p_vb_d, o)
line(ax1, bio_bi6p_vb_e, bio_bi6p_vb_d, o, color=GREEN)
line(ax1, bio_bi6s_vb_e, bio_bi6s_vb_d, o, color=RED)
filled(ax1, bio_o2p_cb_e, bio_o2p_cb_d, o)
line(ax1, bio_bi6p_cb_e, bio_bi6p_cb_d, o, color=GREEN)
line(ax1, bio_bi6s_cb_e, bio_bi6s_cb_d, o, color=RED)

# Fermi level
ax1.plot([0, 0], [0, 8.67], color="#555555", lw=1.0, ls=DASH, clip_on=False, zorder=0)

ax1.set_xlim(-13, 9)
ax1.set_ylim(0, 8.5)
ax1.xaxis.set_major_locator(MultipleLocator(5))
ax1.xaxis.set_minor_locator(MultipleLocator(1))
ax1.yaxis.set_major_locator(MultipleLocator(1))
ax1.yaxis.set_minor_locator(MultipleLocator(0.2))
ax1.set_xlabel("Energy (eV)", fontsize=FS_BIG, labelpad=1)
ax1.set_ylabel("Density of States (states/eV atom)", fontsize=17.5, labelpad=7)

tkw = dict(axis="both", direction="in", top=True, right=True, colors="black")
for ax in (ax1, ax2):
    ax.tick_params(which="major", length=6, width=1.0, labelsize=FS_BIG, pad=5, **tkw)
    ax.tick_params(which="minor", length=3.5, width=0.8, **tkw)
ax1.tick_params(axis="y", which="major", pad=3)

t = dict(fontsize=FS, color="black")
c = dict(fontsize=FS_CMP, color="black")
ax1.text(-12.2, 8.13, "(a) DOS", va="center", ha="left", fontsize=FS_BIG)
ax1.text(-12.2, 6.13, "TiO$_2$", va="baseline", ha="left", **c)
ax1.text(-12.43, 3.54, "Bi$_2$Ti$_4$O$_{11}$", va="baseline", ha="left", **c)
ax1.text(-12.43, 1.65, "Bi$_4$Ti$_3$O$_{12}$", va="baseline", ha="left", **c)
ax1.text(-12.8, 0.36, "Bi$_2$O$_3$", va="baseline", ha="left", **c)
ax1.text(4.35, 7.22, "×1/3", va="center", ha="left", **t)
ax1.text(4.74, 4.96, "×1/3", va="center", ha="left", **t)
ax1.text(4.35, 3.35, "×1/3", va="center", ha="left", **t)

leg_a1 = ax1.legend(
    handles=[Patch(facecolor=GRAY, edgecolor="black", linewidth=1.5),
             Line2D([], [], color=RED, lw=2)],
    labels=["O 2$p$", "Bi 6$s$"], loc="upper right", bbox_to_anchor=(0.975, 0.99),
    frameon=False, fontsize=FS_BIG, handlelength=1.15, handleheight=1.05, handletextpad=0.3,
    labelspacing=0.15, borderpad=0, borderaxespad=0)
ax1.add_artist(leg_a1)
ax1.legend(
    handles=[Line2D([], [], color=GREEN, lw=2), Line2D([], [], color=BLUE, lw=2)],
    labels=["Bi 6$p$", "Ti 3$d$"], loc="center right", bbox_to_anchor=(0.975, 0.159),
    frameon=False, fontsize=FS_BIG, handlelength=1.25, handletextpad=0.3,
    labelspacing=0.2, borderpad=0, borderaxespad=0)

# ---- panel (b)
series = [
    ("TiO2", BLUE,
     [(tio2_xes_exp_e, tio2_xes_exp_i), (tio2_xas_exp_e, tio2_xas_exp_i)],
     [(tio2_xes_calc_e, tio2_xes_calc_i), (tio2_xas_calc_e, tio2_xas_calc_i)],
     (tio2_marks_e, tio2_marks_lo, tio2_marks_hi)),
    ("Bi2Ti4O11", GREEN,
     [(b2t4_xes_exp_e, b2t4_xes_exp_i), (b2t4_xes_x10_e, b2t4_xes_x10_i), (b2t4_xas_exp_e, b2t4_xas_exp_i)],
     [(b2t4_xes_calc_e, b2t4_xes_calc_i), (b2t4_xes_calc_x10_e, b2t4_xes_calc_x10_i),
      (b2t4_xas_calc_e, b2t4_xas_calc_i)],
     (b2t4_marks_e, b2t4_marks_lo, b2t4_marks_hi)),
    ("Bi4Ti3O12", RED,
     [(b4t3_xes_exp_e, b4t3_xes_exp_i), (b4t3_xes_x20_e, b4t3_xes_x20_i), (b4t3_xas_exp_e, b4t3_xas_exp_i)],
     [(b4t3_xes_calc_e, b4t3_xes_calc_i), (b4t3_xes_calc_x10_e, b4t3_xes_calc_x10_i),
      (b4t3_xas_calc_e, b4t3_xas_calc_i)],
     (b4t3_marks_e, b4t3_marks_lo, b4t3_marks_hi)),
    ("Bi2O3", BLUE,
     [(bio_xes_exp_e, bio_xes_exp_i), (bio_xes_x10_e, bio_xes_x10_i), (bio_xas_exp_e, bio_xas_exp_i)],
     [(bio_xes_calc_e, bio_xes_calc_i), (bio_xes_calc_x10_e, bio_xes_calc_x10_i),
      (bio_xas_calc_e, bio_xas_calc_i)],
     (bio_marks_e, bio_marks_lo, bio_marks_hi)),
]
for name, col, exps, calcs, mk in series:
    o = spec_offsets[name]
    for e, i in calcs:
        line(ax2, e, i, o, color="black", lw=1.6, ls=DASH, z=3)
    for e, i in exps:
        line(ax2, e, i, o, color=col, lw=2.0, z=4)
    marks(ax2, *mk, o)

ax2.set_xlim(516, 548)
ax2.set_ylim(0, 4.45)
ax2.xaxis.set_major_locator(MultipleLocator(5))
ax2.xaxis.set_minor_locator(MultipleLocator(1))
ax2.yaxis.set_major_locator(MultipleLocator(0.25))
ax2.yaxis.set_minor_locator(MultipleLocator(0.25))
ax2.yaxis.set_major_formatter(NullFormatter())
ax2.tick_params(axis="y", which="major", length=3.5)
ax2.set_xlabel("Emission/Excitation Energy (eV)", fontsize=FS_BIG, labelpad=1)
ax2.yaxis.set_label_position("right")
ax2.set_ylabel("Spectral Intensity (arb. units)", fontsize=19.5, labelpad=12)

ax2.text(516.71, 4.24, "(b) O $K$ XES, XAS", va="center", ha="left", fontsize=FS_BIG)
ax2.text(516.84, 3.30, "TiO$_2$", va="baseline", ha="left", **c)
ax2.text(524.43, 3.405, "$A$", va="center", ha="center", **t)
ax2.text(526.33, 3.587, "$B$", va="center", ha="center", **t)
ax2.text(531.58, 4.08, "$t_{2g}$", va="baseline", ha="left", **t)
ax2.text(533.73, 4.23, "$e_g$", va="baseline", ha="left", **t)
ax2.text(521.7, 2.95, "×10", va="center", ha="left", **t)
ax2.text(520.19, 2.24, "$S_1$", va="baseline", ha="left", **t)
ax2.text(527.28, 2.76, "$S_2$", va="baseline", ha="left", **t)
ax2.text(540.76, 2.25, "Bi$_2$Ti$_4$O$_{11}$", va="baseline", ha="left", **c)
ax2.text(522.0, 1.875, "×20", va="center", ha="left", **t)
ax2.text(521.27, 1.625, "×10", va="center", ha="left", **t)
ax2.text(540.76, 1.18, "Bi$_4$Ti$_3$O$_{12}$", va="baseline", ha="left", **c)
ax2.text(516.33, 0.80, "Bi$_2$O$_3$", va="baseline", ha="left", **c)
ax2.text(522.0, 0.587, "×10", va="center", ha="left", **t)
ax2.text(524.87, 0.115, "XES", va="center", ha="left", **t)
ax2.text(540.9, 0.162, "XAS", va="center", ha="left", **t)

ax2.legend(
    handles=[Line2D([], [], color="black", lw=2), Line2D([], [], color="black", lw=1.6, ls=DASH)],
    labels=["Exp.", "Calc."], loc="center left", bbox_to_anchor=(0.006, 0.838),
    frameon=False, fontsize=FS_BIG, handlelength=1.3, handletextpad=0.2,
    labelspacing=0.12, borderpad=0, borderaxespad=0)

for ax in (ax1, ax2):
    for s in ax.spines.values():
        s.set_color("black")
        s.set_linewidth(1.1)

fig.savefig("out.png", dpi=100)
